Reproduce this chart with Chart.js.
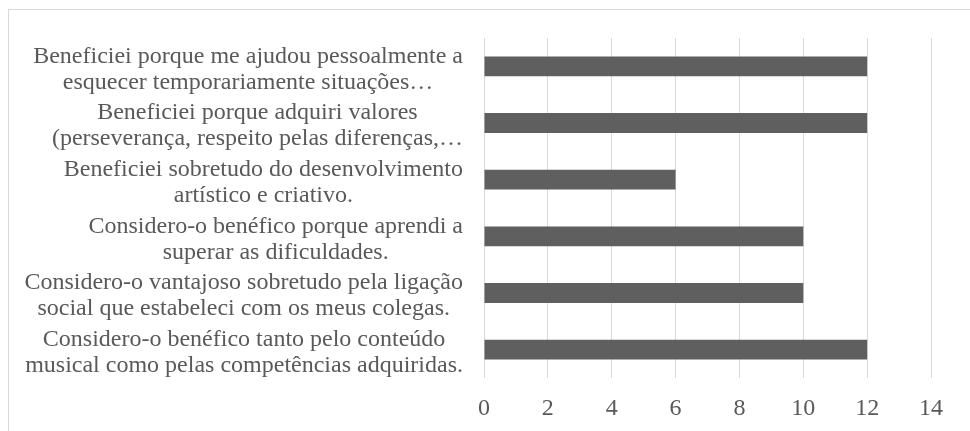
<!DOCTYPE html>
<html>
<head>
<meta charset="utf-8">
<script src="https://cdn.jsdelivr.net/npm/chart.js@4.4.0/dist/chart.umd.min.js"></script>
<style>
  html, body { margin: 0; padding: 0; background: #fff; }
  #wrap { position: relative; width: 970px; height: 431px; overflow: hidden; }
  #frame { position: absolute; left: 8px; top: 9px; width: 1100px; height: 600px; border: 1px solid #d9d9d9; }
  #chart { position: absolute; left: 0; top: 0; }
</style>
</head>
<body>
<div id="wrap">
  <div id="frame"></div>
  <canvas id="chart" width="970" height="431"></canvas>
</div>
<script>
// categories, top to bottom
const categories = [
  ["Beneficiei porque me ajudou pessoalmente a", "esquecer temporariamente situações…"],
  ["Beneficiei porque adquiri valores", "(perseverança, respeito pelas diferenças,…"],
  ["Beneficiei sobretudo do desenvolvimento", "artístico e criativo."],
  ["Considero-o benéfico porque aprendi a", "superar as dificuldades."],
  ["Considero-o vantajoso sobretudo pela ligação", "social que estabeleci com os meus colegas."],
  ["Considero-o benéfico tanto pelo conteúdo", "musical como pelas competências adquiridas."]
]
const values = [12, 12, 6, 10, 10, 12]
const xTicks = [0, 2, 4, 6, 8, 10, 12, 14]

const FONT = "'Liberation Serif', 'Times New Roman', serif"
const TEXT = "#595959"

// Excel-like labels: widest line right aligned, other lines centred on it
const labelPlugin = {
  id: "labels",
  afterDraw(chart) {
    const ctx = chart.ctx
    const y = chart.scales.y
    const right = chart.chartArea.left - 21
    ctx.save()
    ctx.font = "24px " + FONT
    ctx.fillStyle = TEXT
    ctx.textAlign = "center"
    ctx.textBaseline = "middle"
    const lh = 26
    categories.forEach((lines, i) => {
      const py = y.getPixelForValue(i)
      const w = Math.max(...lines.map(l => ctx.measureText(l).width))
      const cx = right - w / 2
      lines.forEach((l, j) => {
        ctx.fillText(l, cx, py + (j - (lines.length - 1) / 2) * lh + 3)
      })
    })
    ctx.restore()
  }
}

new Chart(document.getElementById("chart"), {
  type: "bar",
  data: {
    labels: categories,
    datasets: [{
      data: values,
      backgroundColor: "#5f5f5f",
      barPercentage: 0.7,
      categoryPercentage: 0.5
    }]
  },
  options: {
    indexAxis: "y",
    responsive: false,
    animation: false,
    layout: { padding: { top: 38, right: 39, bottom: 0, left: 0 } },
    plugins: { legend: { display: false }, tooltip: { enabled: false } },
    scales: {
      x: {
        min: 0, max: 14,
        afterBuildTicks: s => { s.ticks = xTicks.map(v => ({ value: v })) },
        grid: { color: "#d9d9d9", lineWidth: 1, drawTicks: false },
        border: { display: false },
        ticks: { color: TEXT, font: { family: FONT, size: 24 }, padding: 16 },
        afterFit: s => { s.height = 53 }
      },
      y: {
        grid: { display: false },
        border: { display: false },
        ticks: { display: false },
        afterFit: s => { s.width = 484 }
      }
    }
  },
  plugins: [labelPlugin]
})
</script>
</body>
</html>
